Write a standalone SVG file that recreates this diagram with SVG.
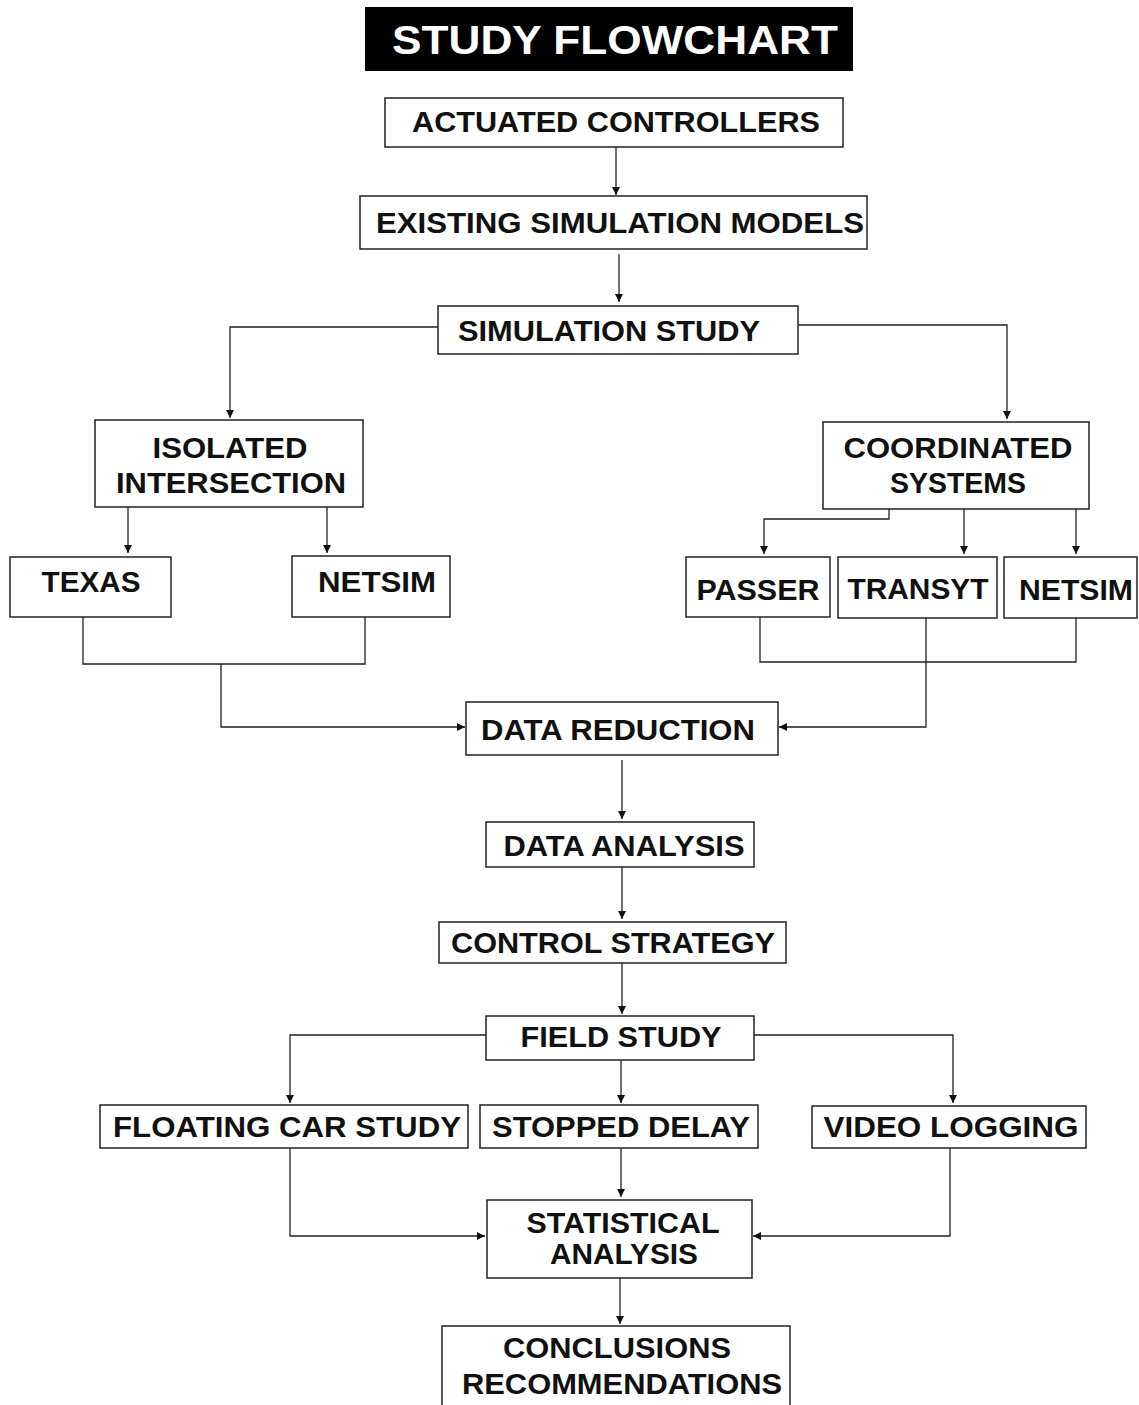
<svg xmlns="http://www.w3.org/2000/svg" width="1139" height="1405" viewBox="0 0 1139 1405">
<defs>
<marker id="ah" viewBox="0 0 10 10" refX="10" refY="5" markerWidth="9" markerHeight="8" orient="auto" markerUnits="userSpaceOnUse">
<path d="M0,0 L10,5 L0,10 z" fill="#111"/>
</marker>
<style>
.box{fill:#fff;stroke:#222;stroke-width:1.5}
.t{font-family:"Liberation Sans",Arial,sans-serif;font-weight:bold;font-size:29px;fill:#111;text-anchor:middle}
.title{font-family:"Liberation Sans",Arial,sans-serif;font-weight:bold;font-size:40px;fill:#fff;text-anchor:middle}
.c{fill:none;stroke:#222;stroke-width:1.3}
.a{fill:none;stroke:#222;stroke-width:1.3;marker-end:url(#ah)}
</style>
</defs>
<rect width="1139" height="1405" fill="#fff"/>

<g id="title">
<rect x="365" y="7" width="488" height="64" fill="#000"/>
<text class="title" x="615" y="54" textLength="446" lengthAdjust="spacingAndGlyphs">STUDY FLOWCHART</text>
</g>

<g id="connectors">
<path class="a" d="M616,147 V195"/>
<path class="a" d="M619,254 V302"/>
<path class="a" d="M438,327 H230 V418"/>
<path class="a" d="M798,325 H1007 V419"/>
<path class="a" d="M128,507 V553"/>
<path class="a" d="M327,507 V553"/>
<path class="a" d="M889,509 V519 H764 V554"/>
<path class="a" d="M964,509 V554"/>
<path class="a" d="M1076,509 V554"/>
<path class="c" d="M83,617 V664 H365 V617"/>
<path class="a" d="M221,664 V727 H465"/>
<path class="c" d="M760,617 V662 H1076 V618"/>
<path class="a" d="M926,618 V727 H779"/>
<path class="a" d="M622,760 V819"/>
<path class="a" d="M622,867 V919"/>
<path class="a" d="M622,963 V1014"/>
<path class="a" d="M486,1035 H290 V1103"/>
<path class="a" d="M754,1035 H953 V1103"/>
<path class="a" d="M621,1060 V1103"/>
<path class="a" d="M290,1148 V1236 H485"/>
<path class="a" d="M621,1148 V1197"/>
<path class="a" d="M950,1148 V1236 H753"/>
<path class="a" d="M620,1278 V1324"/>
</g>

<g id="actuated">
<rect class="box" x="385" y="98" width="458" height="49"/>
<text class="t" x="616" y="132" textLength="408" lengthAdjust="spacingAndGlyphs">ACTUATED CONTROLLERS</text>
</g>
<g id="existing">
<rect class="box" x="360" y="196" width="507" height="53"/>
<text class="t" x="620" y="233" textLength="488" lengthAdjust="spacingAndGlyphs">EXISTING SIMULATION MODELS</text>
</g>
<g id="simstudy">
<rect class="box" x="438" y="306" width="360" height="48"/>
<text class="t" x="609" y="341" textLength="302" lengthAdjust="spacingAndGlyphs">SIMULATION STUDY</text>
</g>
<g id="isolated">
<rect class="box" x="95" y="420" width="268" height="87"/>
<text class="t" x="230" y="458" textLength="155" lengthAdjust="spacingAndGlyphs">ISOLATED</text>
<text class="t" x="231" y="493" textLength="230" lengthAdjust="spacingAndGlyphs">INTERSECTION</text>
</g>
<g id="coordinated">
<rect class="box" x="823" y="422" width="266" height="87"/>
<text class="t" x="958" y="458" textLength="229" lengthAdjust="spacingAndGlyphs">COORDINATED</text>
<text class="t" x="958" y="493" textLength="136" lengthAdjust="spacingAndGlyphs">SYSTEMS</text>
</g>
<g id="texas">
<rect class="box" x="10" y="557" width="161" height="60"/>
<text class="t" x="91" y="592" textLength="99" lengthAdjust="spacingAndGlyphs">TEXAS</text>
</g>
<g id="netsim1">
<rect class="box" x="292" y="556" width="158" height="61"/>
<text class="t" x="377" y="592" textLength="118" lengthAdjust="spacingAndGlyphs">NETSIM</text>
</g>
<g id="passer">
<rect class="box" x="686" y="557" width="144" height="60"/>
<text class="t" x="758" y="600" textLength="123" lengthAdjust="spacingAndGlyphs">PASSER</text>
</g>
<g id="transyt">
<rect class="box" x="838" y="557" width="159" height="61"/>
<text class="t" x="918" y="599" textLength="141" lengthAdjust="spacingAndGlyphs">TRANSYT</text>
</g>
<g id="netsim2">
<rect class="box" x="1004" y="557" width="133" height="61"/>
<text class="t" x="1076" y="600" textLength="114" lengthAdjust="spacingAndGlyphs">NETSIM</text>
</g>
<g id="reduction">
<rect class="box" x="466" y="702" width="312" height="53"/>
<text class="t" x="618" y="740" textLength="274" lengthAdjust="spacingAndGlyphs">DATA REDUCTION</text>
</g>
<g id="analysis">
<rect class="box" x="486" y="822" width="268" height="45"/>
<text class="t" x="624" y="856" textLength="241" lengthAdjust="spacingAndGlyphs">DATA ANALYSIS</text>
</g>
<g id="control">
<rect class="box" x="439" y="922" width="347" height="41"/>
<text class="t" x="613" y="953" textLength="324" lengthAdjust="spacingAndGlyphs">CONTROL STRATEGY</text>
</g>
<g id="field">
<rect class="box" x="486" y="1016" width="268" height="44"/>
<text class="t" x="621" y="1047" textLength="201" lengthAdjust="spacingAndGlyphs">FIELD STUDY</text>
</g>
<g id="floating">
<rect class="box" x="100" y="1105" width="368" height="43"/>
<text class="t" x="287" y="1137" textLength="348" lengthAdjust="spacingAndGlyphs">FLOATING CAR STUDY</text>
</g>
<g id="stopped">
<rect class="box" x="480" y="1105" width="278" height="43"/>
<text class="t" x="621" y="1137" textLength="258" lengthAdjust="spacingAndGlyphs">STOPPED DELAY</text>
</g>
<g id="video">
<rect class="box" x="812" y="1106" width="274" height="42"/>
<text class="t" x="951" y="1137" textLength="255" lengthAdjust="spacingAndGlyphs">VIDEO LOGGING</text>
</g>
<g id="statistical">
<rect class="box" x="487" y="1200" width="265" height="78"/>
<text class="t" x="623" y="1233" textLength="193" lengthAdjust="spacingAndGlyphs">STATISTICAL</text>
<text class="t" x="624" y="1264" textLength="148" lengthAdjust="spacingAndGlyphs">ANALYSIS</text>
</g>
<g id="conclusions">
<rect class="box" x="442" y="1326" width="348" height="80"/>
<text class="t" x="617" y="1358" textLength="228" lengthAdjust="spacingAndGlyphs">CONCLUSIONS</text>
<text class="t" x="622" y="1394" textLength="320" lengthAdjust="spacingAndGlyphs">RECOMMENDATIONS</text>
</g>
</svg>
